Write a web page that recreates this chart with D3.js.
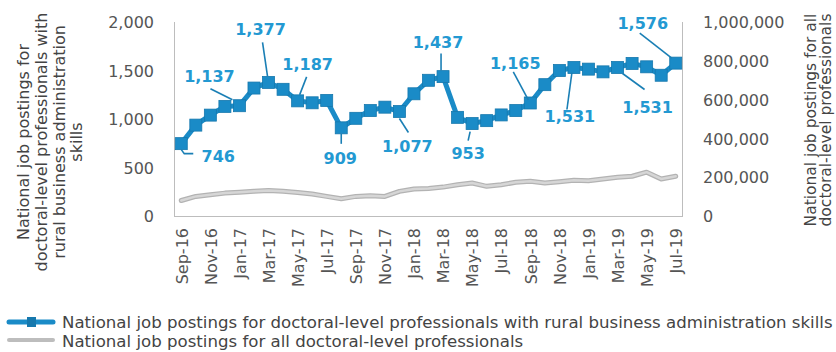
<!DOCTYPE html>
<html>
<head>
<meta charset="utf-8">
<script src="https://cdn.jsdelivr.net/npm/d3@7"></script>
<style>
  body { margin: 0; background: #fff; }
  #chart svg { display: block; }
</style>
</head>
<body>
<div id="chart"></div>
<script>
// months shown on the x axis (every other one gets a label)
var months = ["Sep-16","Oct-16","Nov-16","Dec-16","Jan-17","Feb-17","Mar-17","Apr-17","May-17","Jun-17","Jul-17","Aug-17",
  "Sep-17","Oct-17","Nov-17","Dec-17","Jan-18","Feb-18","Mar-18","Apr-18","May-18","Jun-18","Jul-18","Aug-18",
  "Sep-18","Oct-18","Nov-18","Dec-18","Jan-19","Feb-19","Mar-19","Apr-19","May-19","Jun-19","Jul-19"];

// rural business administration skills postings (left axis)
var ruralPostings = [746, 937, 1040, 1130, 1137, 1319, 1377, 1306, 1187, 1167, 1191, 909,
  1007, 1087, 1122, 1077, 1260, 1399, 1437, 1017, 953, 983, 1042, 1087,
  1165, 1354, 1500, 1531, 1514, 1486, 1531, 1573, 1538, 1451, 1576];

// all doctoral-level postings (right axis)
var allPostings = [80000, 101000, 109000, 118000, 123000, 127000, 132000, 127000, 121000, 113000, 101000, 89000,
  101000, 104000, 101000, 127000, 139000, 142000, 149000, 161000, 170000, 153000, 161000, 174000,
  179000, 170000, 177000, 184000, 182000, 191000, 200000, 205000, 226000, 191000, 205000];

var leftTicks = [0, 500, 1000, 1500, 2000];
var rightTicks = [0, 200000, 400000, 600000, 800000, 1000000];

// months whose value is called out
var callouts = [0, 4, 6, 8, 11, 15, 18, 20, 24, 27, 30, 34];

var leftTitle = ["National job postings for", "doctoral-level professionals with", "rural business administration", "skills"];
var rightTitle = ["National job postings for all", "doctoral-level professionals"];
var legendNames = ["National job postings for doctoral-level professionals with rural business administration skills",
  "National job postings for all doctoral-level professionals"];

var width = 836, height = 352;
var margin = {top: 22, right: 153, bottom: 136, left: 174};
var blue = "#1a8bc7", labelBlue = "#2399d2", textCol = "#444";
var font = "'DejaVu Sans', Verdana, sans-serif";

var svg = d3.select("#chart").append("svg")
  .attr("width", width)
  .attr("height", height)
  .style("font-family", font);

var x = d3.scalePoint()
  .domain(months)
  .range([margin.left, width - margin.right])
  .padding(0.5);

var yLeft = d3.scaleLinear().domain([0, 2000]).range([height - margin.bottom, margin.top]);
var yRight = d3.scaleLinear().domain([0, 1000000]).range([height - margin.bottom, margin.top]);

var fmt = d3.format(",");

// frame: left, bottom and right lines
var frame = svg.append("g").attr("stroke", "#bdbdbd").attr("stroke-width", 1);
frame.append("line").attr("x1", margin.left + 0.5).attr("x2", margin.left + 0.5)
  .attr("y1", margin.top).attr("y2", height - margin.bottom);
frame.append("line").attr("x1", width - margin.right - 0.5).attr("x2", width - margin.right - 0.5)
  .attr("y1", margin.top).attr("y2", height - margin.bottom);
frame.append("line").attr("x1", margin.left).attr("x2", width - margin.right)
  .attr("y1", height - margin.bottom + 0.5).attr("y2", height - margin.bottom + 0.5);

// left axis
var axL = svg.append("g")
  .attr("transform", "translate(" + (margin.left - 17) + ",0)")
  .call(d3.axisLeft(yLeft).tickValues(leftTicks).tickFormat(fmt).tickSize(0));
axL.select(".domain").remove();
axL.selectAll("text").attr("font-size", 16).attr("font-family", font).attr("fill", "#555").attr("dy", "0.36em");

// right axis
var axR = svg.append("g")
  .attr("transform", "translate(" + (width - margin.right + 17) + ",0)")
  .call(d3.axisRight(yRight).tickValues(rightTicks).tickFormat(fmt).tickSize(0));
axR.select(".domain").remove();
axR.selectAll("text").attr("font-size", 16).attr("font-family", font).attr("fill", "#555").attr("dy", "0.36em");

// bottom axis labels, rotated
var axB = svg.append("g")
  .attr("transform", "translate(0," + (height - margin.bottom) + ")")
  .call(d3.axisBottom(x).tickValues(months.filter(function(d, i) { return i % 2 === 0; })).tickSize(0));
axB.select(".domain").remove();
axB.selectAll("text")
  .attr("font-size", 16).attr("font-family", font).attr("fill", "#555")
  .attr("text-anchor", "end")
  .attr("transform", "rotate(-90)")
  .attr("x", -12).attr("y", 0).attr("dy", "0.36em");

// axis titles
var lt = svg.append("g").attr("transform", "translate(50,142) rotate(-90)")
  .attr("font-size", 16).attr("fill", textCol).attr("text-anchor", "middle");
lt.selectAll("text").data(leftTitle).enter().append("text")
  .attr("x", 0)
  .attr("y", function(d, i) { return (i - 1.5) * 17.7; })
  .attr("dy", "0.36em")
  .text(function(d) { return d; });

var rt = svg.append("g").attr("transform", "translate(818,120) rotate(-90)")
  .attr("font-size", 15.5).attr("fill", textCol).attr("text-anchor", "middle");
rt.selectAll("text").data(rightTitle).enter().append("text")
  .attr("x", 0)
  .attr("y", function(d, i) { return (i - 0.5) * 15; })
  .attr("dy", "0.36em")
  .text(function(d) { return d; });

// grey line (all doctoral-level)
var greyLine = d3.line()
  .x(function(d, i) { return x(months[i]); })
  .y(function(d) { return yRight(d); });

svg.append("path").datum(allPostings)
  .attr("d", greyLine)
  .attr("fill", "none").attr("stroke", "#b3b3b3").attr("stroke-width", 5)
  .attr("stroke-linejoin", "round").attr("stroke-linecap", "round");
svg.append("path").datum(allPostings)
  .attr("d", greyLine)
  .attr("fill", "none").attr("stroke", "#d6d6d6").attr("stroke-width", 2.5)
  .attr("stroke-linejoin", "round").attr("stroke-linecap", "round");

// blue line with square markers
var blueLine = d3.line()
  .x(function(d, i) { return x(months[i]); })
  .y(function(d) { return yLeft(d); });

svg.append("path").datum(ruralPostings)
  .attr("d", blueLine)
  .attr("fill", "none").attr("stroke", blue).attr("stroke-width", 5)
  .attr("stroke-linejoin", "round");

var ms = 12;
svg.selectAll("rect.mk").data(ruralPostings).enter().append("rect")
  .attr("class", "mk")
  .attr("x", function(d, i) { return x(months[i]) - ms / 2; })
  .attr("y", function(d) { return yLeft(d) - ms / 2; })
  .attr("width", ms).attr("height", ms)
  .attr("fill", blue).attr("stroke", "#1678ad").attr("stroke-width", 0.8);

// callout placement: text offset and leader line, relative to the marker
var calloutLayout = {
  0:  {tx: 37, ty: 13, path: [[0, 6], [3, 10], [12, 10]]},
  4:  {tx: -30, ty: -29, path: [[-29, -17], [-7, -6]]},
  6:  {tx: -8, ty: -53, path: [[-6, -40], [-1, -6]]},
  8:  {tx: 10, ty: -37, path: [[9, -24], [2, -6]]},
  11: {tx: -1, ty: 30, path: [[0, 6], [0, 16]]},
  15: {tx: 8, ty: 35, path: [[0, 7], [9, 21]]},
  18: {tx: -5, ty: -34, path: [[-2, -23], [-2, -6]]},
  20: {tx: -4, ty: 30, path: [[-2, 8], [-4, 17]]},
  24: {tx: -15, ty: -40, path: [[-17, -31], [-2, -3]]},
  27: {tx: -4, ty: 49, path: [[-7, 42], [-2, 5]]},
  30: {tx: 30, ty: 40, path: [[5, 6], [27, 22]]},
  34: {tx: -33, ty: -40, path: [[-36, -30], [-4, -5]]}
};

var cg = svg.append("g");
callouts.forEach(function(i) {
  var px = x(months[i]), py = yLeft(ruralPostings[i]);
  var c = calloutLayout[i];
  cg.append("path")
    .attr("d", d3.line()(c.path.map(function(p) { return [px + p[0], py + p[1]]; })))
    .attr("fill", "none").attr("stroke", "#1a7fb5").attr("stroke-width", 1.6);
  cg.append("text")
    .attr("x", px + c.tx).attr("y", py + c.ty)
    .attr("dy", "0.36em")
    .attr("text-anchor", "middle")
    .attr("font-size", 16).attr("font-weight", "bold")
    .attr("fill", labelBlue)
    .text(fmt(ruralPostings[i]));
});

// legend
var lg = svg.append("g");
lg.append("line").attr("x1", 9).attr("x2", 53).attr("y1", 322).attr("y2", 322)
  .attr("stroke", blue).attr("stroke-width", 5).attr("stroke-linecap", "round");
lg.append("rect").attr("x", 27).attr("y", 317).attr("width", 9).attr("height", 10).attr("fill", "#1678ad");
lg.append("line").attr("x1", 9).attr("x2", 53).attr("y1", 340).attr("y2", 340)
  .attr("stroke", "#bdbdbd").attr("stroke-width", 4).attr("stroke-linecap", "round");

var legText = lg.selectAll("text").data(legendNames).enter().append("text")
  .attr("x", 62)
  .attr("y", function(d, i) { return 322 + i * 19; })
  .attr("dy", "0.36em")
  .attr("font-family", font)
  .attr("font-size", 16)
  .attr("fill", textCol)
  .text(function(d) { return d; });

// fit the first legend line to the width seen in the picture
var w0 = legText.nodes()[0].getComputedTextLength();
if (w0 > 0) legText.attr("font-size", 16 * 771 / w0);
</script>
</body>
</html>
